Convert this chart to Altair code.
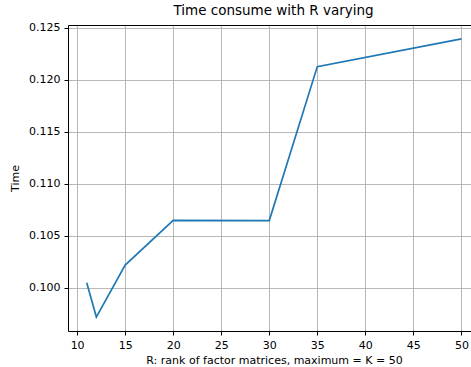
import altair as alt
import pandas as pd

r_values = [11, 12, 15, 20, 30, 35, 50]
time_values = [0.10048, 0.09719, 0.10218, 0.10649, 0.10646, 0.12126, 0.12392]
x_ticks = [10, 15, 20, 25, 30, 35, 40, 45, 50]
y_ticks = [0.100, 0.105, 0.110, 0.115, 0.120, 0.125]

df = pd.DataFrame({"R": r_values, "Time": time_values})

FONT = "DejaVu Sans"
x_scale = alt.Scale(domain=[9.05, 51.0], nice=False, zero=False)
y_scale = alt.Scale(domain=[0.09585, 0.12526], nice=False, zero=False)

line = alt.Chart(df).mark_line(color="#1f77b4", strokeWidth=1.7, clip=True).encode(
    x=alt.X("R:Q", scale=x_scale,
            axis=alt.Axis(title="R: rank of factor matrices, maximum = K = 50",
                          values=x_ticks, format="d", grid=True,
                          titleX=206, titlePadding=4)),
    y=alt.Y("Time:Q", scale=y_scale,
            axis=alt.Axis(title="Time", values=y_ticks, format=".3f", grid=True,
                          titlePadding=8)),
)

top = alt.Chart(df).mark_line(opacity=0).encode(
    x=alt.X("R:Q", scale=x_scale,
            axis=alt.Axis(orient="top", labels=False, ticks=False, grid=False,
                          title=None, domain=True)),
    y=alt.Y("Time:Q", scale=y_scale),
)

chart = alt.layer(line, top).resolve_axis(x="independent").properties(
    width=403,
    height=306,
    background="white",
    autosize=alt.AutoSizeParams(type="none"),
    padding={"left": 68, "top": 25, "right": 0, "bottom": 36},
    title=alt.TitleParams("Time consume with R varying", anchor="middle", dx=4,
                          offset=4, font=FONT, fontSize=13.5, fontWeight="normal",
                          color="black"),
).configure_view(stroke=None).configure_axis(
    labelFont=FONT, titleFont=FONT, labelFontSize=11, titleFontSize=11,
    labelColor="black", titleColor="black", titleFontWeight="normal",
    domainColor="black", domainWidth=1, tickColor="black", tickSize=4,
    tickWidth=1, labelPadding=4, gridColor="#b0b0b0", gridWidth=0.9,
    gridOpacity=1,
)

chart.save("out.html", embed_options={"renderer": "svg", "actions": False})
